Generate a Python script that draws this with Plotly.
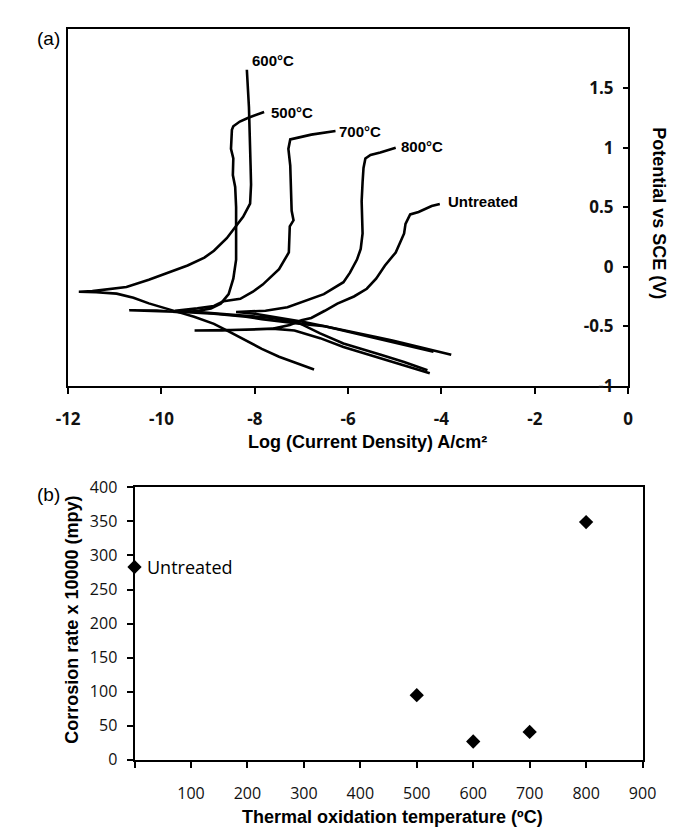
import plotly.graph_objects as go

W, H = 688, 832

# ---------------- (a) polarization curves: log(i) [A/cm2] vs E [V vs SCE] ----------------
# each curve: cathodic end -> corrosion tip -> anodic branch -> passive region -> label end
C600_LOGI = [-6.73, -7.10, -7.48, -7.85, -8.19, -8.55, -8.875, -9.3, -9.71, -9.98, -10.27, -10.6, -10.96, -11.4, -11.77,
             -11.48, -11.17, -10.75, -10.27, -9.81, -9.44, -9.08, -8.875, -8.60, -8.40, -8.25, -8.10, -8.08, -8.09,
             -8.10, -8.125, -8.17]
C600_E = [-0.863, -0.81, -0.756, -0.69, -0.617, -0.545, -0.48, -0.42, -0.373, -0.34, -0.308, -0.26, -0.226, -0.215, -0.21,
          -0.205, -0.19, -0.17, -0.11, -0.046, 0.01, 0.077, 0.134, 0.24, 0.34, 0.42, 0.53, 0.69, 0.85,
          1.02, 1.34, 1.655]

C500_LOGI = [-3.79, -4.3, -4.71, -5.05, -5.40, -5.75, -6.10, -6.5, -7.0, -7.48, -7.85, -8.19, -8.875, -9.56, -10.1, -10.69,
             -10.1, -9.56, -9.2, -8.94, -8.73, -8.56, -8.46, -8.40, -8.40, -8.40, -8.42, -8.47, -8.46, -8.51, -8.49,
             -8.46, -8.32, -8.15, -7.80]
C500_E = [-0.74, -0.69, -0.65, -0.62, -0.59, -0.56, -0.53, -0.50, -0.48, -0.46, -0.44, -0.42, -0.395, -0.38, -0.37, -0.365,
          -0.368, -0.385, -0.37, -0.35, -0.31, -0.23, -0.10, 0.06, 0.34, 0.50, 0.67, 0.77, 0.91, 0.99, 1.15,
          1.18, 1.22, 1.25, 1.30]

C700_LOGI = [-4.30, -4.8, -5.3, -5.7, -6.10, -6.6, -7.07, -7.625, -8.0, -8.6, -9.2, -9.71,
             -9.23, -8.875, -8.67, -8.31, -8.04, -7.83, -7.48, -7.27, -7.25, -7.17, -7.21, -7.22, -7.24, -7.28,
             -7.24, -7.07, -6.79, -6.27]
C700_E = [-0.87, -0.80, -0.74, -0.69, -0.645, -0.56, -0.47, -0.43, -0.42, -0.40, -0.38, -0.37,
          -0.35, -0.33, -0.29, -0.27, -0.21, -0.15, -0.02, 0.12, 0.34, 0.39, 0.47, 0.67, 0.85, 0.99,
          1.07, 1.085, 1.11, 1.14]

C800_LOGI = [-4.17, -4.6, -5.0, -5.5, -6.0, -6.5, -7.0, -7.5, -8.0, -8.4,
             -7.77, -7.3, -6.94, -6.52, -6.10, -5.96, -5.81, -5.73, -5.69, -5.71, -5.71, -5.69, -5.67, -5.63,
             -5.52, -5.31, -5.15, -4.98]
C800_E = [-0.715, -0.675, -0.64, -0.59, -0.545, -0.50, -0.46, -0.425, -0.395, -0.38,
          -0.37, -0.34, -0.29, -0.23, -0.13, -0.05, 0.06, 0.15, 0.28, 0.445, 0.55, 0.71, 0.83, 0.91,
          0.94, 0.96, 0.98, 1.00]

CUNT_LOGI = [-4.25, -4.8, -5.40, -5.75, -6.10, -6.6, -7.15, -7.625, -8.19, -8.7, -9.29,
             -8.7, -8.2, -7.6, -7.25, -7.0, -6.79, -6.5, -6.23, -5.875, -5.60, -5.40, -5.21, -4.98, -4.80,
             -4.77, -4.67, -4.49, -4.38, -4.21, -4.035]
CUNT_E = [-0.895, -0.83, -0.757, -0.715, -0.675, -0.60, -0.536, -0.52, -0.53, -0.535, -0.536,
          -0.535, -0.53, -0.52, -0.49, -0.45, -0.43, -0.37, -0.31, -0.25, -0.185, -0.10, 0.01, 0.12, 0.28,
          0.36, 0.44, 0.46, 0.48, 0.51, 0.527]

CURVE_NAMES = ["600°C", "500°C", "700°C", "800°C", "Untreated"]
LABEL_LOGI = [-8.10, -7.69, -6.23, -4.90, -3.90]
LABEL_E = [1.73, 1.30, 1.14, 1.01, 0.545]

X1_TICKS = [-12, -10, -8, -6, -4, -2, 0]
X1_TEXT = ["-12", "-10", "-8", "-6", "-4", "-2", "0"]
Y1_TICKS = [-1, -0.5, 0, 0.5, 1, 1.5]
Y1_TEXT = ["-1", "-0.5", "0", "0.5", "1", "1.5"]

# ---------------- (b) corrosion rate vs oxidation temperature ----------------
TEMP = [0, 500, 600, 700, 800]
RATE = [283, 95, 27, 41, 349]
X2_TICKS = [100, 200, 300, 400, 500, 600, 700, 800, 900]
X2_TEXT = ["100", "200", "300", "400", "500", "600", "700", "800", "900"]
Y2_TICKS = [0, 50, 100, 150, 200, 250, 300, 350, 400]

fig = go.Figure()
curves = [(C600_LOGI, C600_E), (C500_LOGI, C500_E), (C700_LOGI, C700_E), (C800_LOGI, C800_E), (CUNT_LOGI, CUNT_E)]
for name, (xs, ys) in zip(CURVE_NAMES, curves):
    fig.add_trace(go.Scatter(x=xs, y=ys, mode="lines", name=name, xaxis="x", yaxis="y",
                             line=dict(color="black", width=2.6), showlegend=False))

fig.add_trace(go.Scatter(x=TEMP, y=RATE, mode="markers", xaxis="x2", yaxis="y2", showlegend=False,
                         marker=dict(symbol="diamond", size=11, color="black"), cliponaxis=False))

def px_x(p):
    return p / W

def px_y(p):
    return 1 - p / H

tick_top = dict(family="Open Sans", size=17, color="#111", weight=700)
tick_bot = dict(family="Open Sans", size=16, color="#111")
axis_common = dict(showgrid=False, zeroline=False, showline=True, linecolor="black", linewidth=2,
                   mirror=True, tickcolor="black", tickwidth=2)

fig.update_layout(
    width=W, height=H, margin=dict(l=0, r=0, t=0, b=0),
    paper_bgcolor="white", plot_bgcolor="white",
    xaxis=dict(domain=[px_x(50), px_x(632)], range=[-12, 0], tickvals=X1_TICKS, ticktext=X1_TEXT,
               ticks="outside", ticklen=6, tickfont=tick_top, anchor="y", ticklabelstandoff=11, **axis_common),
    yaxis=dict(domain=[px_y(376.7), px_y(10)], range=[-1, 2], tickvals=Y1_TICKS, ticktext=Y1_TEXT,
               side="right", ticks="inside", ticklen=5, ticklabelposition="inside", ticklabeloverflow="allow",
               tickfont=tick_top, anchor="x", ticklabelstandoff=10, **axis_common),
    xaxis2=dict(domain=[px_x(119), px_x(647)], range=[0, 900], tickvals=X2_TICKS, ticktext=X2_TEXT,
                ticks="outside", ticklen=6, tickfont=tick_bot, anchor="y2", ticklabelstandoff=12,
                minor=dict(tickvals=[0], ticks="outside", ticklen=6, tickwidth=2, tickcolor="black"),
                **axis_common),
    yaxis2=dict(domain=[px_y(761), px_y(481)], range=[0, 400], tickvals=Y2_TICKS, ticks="outside",
                ticklen=6, tickfont=tick_bot, anchor="x2", ticklabelstandoff=6, **axis_common),
)

ann = []
lab_font = dict(family="Liberation Sans, Arial", size=15, color="black", weight=700)
for name, lx, ly in zip(CURVE_NAMES, LABEL_LOGI, LABEL_E):
    ann.append(dict(x=lx, y=ly, xref="x", yref="y", text=name, showarrow=False,
                    xanchor="left", yanchor="middle", font=lab_font))

title_font = dict(family="Liberation Sans, Arial", size=18, color="black", weight=700)
ann += [
    dict(x=px_x(361.5), y=px_y(435), xref="paper", yref="paper", text="Log (Current Density) A/cm²",
         showarrow=False, xanchor="center", yanchor="middle", font=title_font),
    dict(x=px_x(664.5), y=px_y(200), xref="paper", yref="paper", text="Potential vs SCE (V)", textangle=90,
         showarrow=False, xanchor="center", yanchor="middle", font=title_font),
    dict(x=px_x(387.5), y=px_y(820), xref="paper", yref="paper", text="Thermal oxidation temperature (ºC)",
         showarrow=False, xanchor="center", yanchor="middle", font=title_font),
    dict(x=px_x(54), y=px_y(617), xref="paper", yref="paper", text="Corrosion rate x 10000 (mpy)", textangle=-90,
         showarrow=False, xanchor="center", yanchor="middle", font=title_font),
    dict(x=px_x(29.5), y=px_y(20), xref="paper", yref="paper", text="(a)", showarrow=False,
         xanchor="center", yanchor="middle", font=dict(family="Liberation Sans, Arial", size=19, color="black")),
    dict(x=px_x(29.5), y=px_y(488), xref="paper", yref="paper", text="(b)", showarrow=False,
         xanchor="center", yanchor="middle", font=dict(family="Liberation Sans, Arial", size=19, color="black")),
    dict(x=15, y=283, xref="x2", yref="y2", text="Untreated", showarrow=False, xanchor="left", yanchor="middle",
         font=dict(family="Open Sans", size=18, color="black"), xshift=2),
]
fig.update_layout(annotations=ann)

fig.write_html("out.html")
